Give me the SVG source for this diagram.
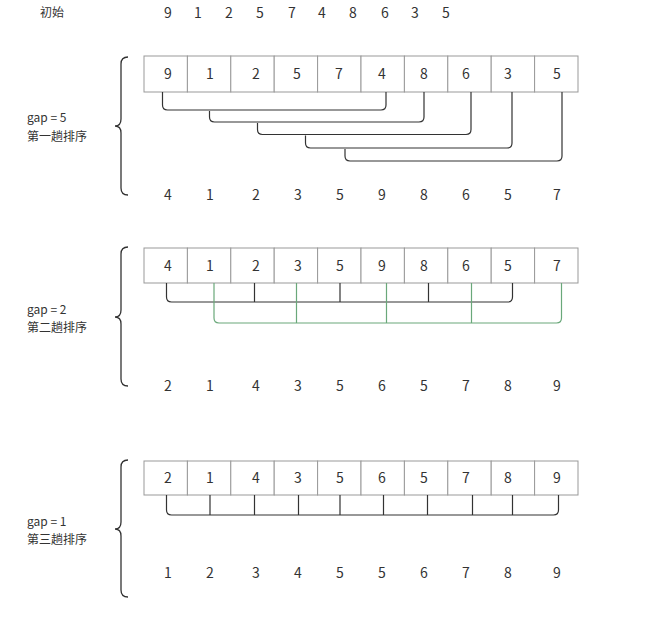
<svg xmlns="http://www.w3.org/2000/svg" width="646" height="620" viewBox="0 0 646 620">
<style>
text{font-family:"Noto Sans CJK SC","Noto Sans",sans-serif;fill:#333;}
.n{font-size:14px;text-anchor:middle;}
.l{font-size:12px;}
.cell{fill:#fff;stroke:#999;stroke-width:1;}
.k{fill:none;stroke:#333;stroke-width:1.2;}
.g{fill:none;stroke:#6aa87a;stroke-width:1.2;}
.br{fill:none;stroke:#333;stroke-width:1.3;}
</style>
<g id="init">
<text class="l" x="40" y="17">初始</text>
<text class="n" y="18"><tspan x="168">9</tspan><tspan x="198">1</tspan><tspan x="229">2</tspan><tspan x="260">5</tspan><tspan x="292">7</tspan><tspan x="322">4</tspan><tspan x="353">8</tspan><tspan x="385">6</tspan><tspan x="415">3</tspan><tspan x="446">5</tspan></text>
</g>
<g id="pass1">
<path class="br" d="M128,57 Q121,57 121,64 L121,119 Q121,126 115,126 Q121,126 121,133 L121,188 Q121,195 128,195"/>
<text class="l" x="27" y="122">gap = 5</text>
<text class="l" x="27" y="141">第一趟排序</text>
<g id="row1">
<rect class="cell" x="144" y="56" width="43.4" height="36"/><rect class="cell" x="187.4" y="56" width="43.4" height="36"/><rect class="cell" x="230.8" y="56" width="43.4" height="36"/><rect class="cell" x="274.2" y="56" width="43.4" height="36"/><rect class="cell" x="317.6" y="56" width="43.4" height="36"/><rect class="cell" x="361" y="56" width="43.4" height="36"/><rect class="cell" x="404.4" y="56" width="43.4" height="36"/><rect class="cell" x="447.8" y="56" width="43.4" height="36"/><rect class="cell" x="491.2" y="56" width="43.4" height="36"/><rect class="cell" x="534.6" y="56" width="43.4" height="36"/>
<text class="n" y="79"><tspan x="168">9</tspan><tspan x="210">1</tspan><tspan x="256">2</tspan><tspan x="297">5</tspan><tspan x="339">7</tspan><tspan x="382">4</tspan><tspan x="424">8</tspan><tspan x="466">6</tspan><tspan x="508">3</tspan><tspan x="557">5</tspan></text>
</g>
<text class="n" y="200"><tspan x="168">4</tspan><tspan x="210">1</tspan><tspan x="256">2</tspan><tspan x="298">3</tspan><tspan x="340">5</tspan><tspan x="382">9</tspan><tspan x="424">8</tspan><tspan x="466">6</tspan><tspan x="508">5</tspan><tspan x="557">7</tspan></text>
</g>
<g id="pass2">
<path class="br" d="M128,247 Q121,247 121,254 L121,310 Q121,317 115,317 Q121,317 121,324 L121,379 Q121,386 128,386"/>
<text class="l" x="27" y="314">gap = 2</text>
<text class="l" x="27" y="332">第二趟排序</text>
<g id="row2">
<rect class="cell" x="144" y="248" width="43.4" height="35"/><rect class="cell" x="187.4" y="248" width="43.4" height="35"/><rect class="cell" x="230.8" y="248" width="43.4" height="35"/><rect class="cell" x="274.2" y="248" width="43.4" height="35"/><rect class="cell" x="317.6" y="248" width="43.4" height="35"/><rect class="cell" x="361" y="248" width="43.4" height="35"/><rect class="cell" x="404.4" y="248" width="43.4" height="35"/><rect class="cell" x="447.8" y="248" width="43.4" height="35"/><rect class="cell" x="491.2" y="248" width="43.4" height="35"/><rect class="cell" x="534.6" y="248" width="43.4" height="35"/>
<text class="n" y="270.5"><tspan x="168">4</tspan><tspan x="210">1</tspan><tspan x="256">2</tspan><tspan x="298">3</tspan><tspan x="340">5</tspan><tspan x="382">9</tspan><tspan x="424">8</tspan><tspan x="466">6</tspan><tspan x="508">5</tspan><tspan x="557">7</tspan></text>
</g>
<text class="n" y="391"><tspan x="168">2</tspan><tspan x="210">1</tspan><tspan x="256">4</tspan><tspan x="298">3</tspan><tspan x="340">5</tspan><tspan x="382">6</tspan><tspan x="424">5</tspan><tspan x="466">7</tspan><tspan x="508">8</tspan><tspan x="557">9</tspan></text>
</g>
<g id="pass3">
<path class="br" d="M128,460 Q121,460 121,467 L121,522 Q121,529 115,529 Q121,529 121,536 L121,590 Q121,597 128,597"/>
<text class="l" x="27" y="526">gap = 1</text>
<text class="l" x="27" y="544">第三趟排序</text>
<g id="row3">
<rect class="cell" x="144" y="461" width="43.4" height="34"/><rect class="cell" x="187.4" y="461" width="43.4" height="34"/><rect class="cell" x="230.8" y="461" width="43.4" height="34"/><rect class="cell" x="274.2" y="461" width="43.4" height="34"/><rect class="cell" x="317.6" y="461" width="43.4" height="34"/><rect class="cell" x="361" y="461" width="43.4" height="34"/><rect class="cell" x="404.4" y="461" width="43.4" height="34"/><rect class="cell" x="447.8" y="461" width="43.4" height="34"/><rect class="cell" x="491.2" y="461" width="43.4" height="34"/><rect class="cell" x="534.6" y="461" width="43.4" height="34"/>
<text class="n" y="483"><tspan x="168">2</tspan><tspan x="210">1</tspan><tspan x="256">4</tspan><tspan x="298">3</tspan><tspan x="340">5</tspan><tspan x="382">6</tspan><tspan x="424">5</tspan><tspan x="466">7</tspan><tspan x="508">8</tspan><tspan x="557">9</tspan></text>
</g>
<text class="n" y="578"><tspan x="168">1</tspan><tspan x="210">2</tspan><tspan x="256">3</tspan><tspan x="298">4</tspan><tspan x="340">5</tspan><tspan x="382">5</tspan><tspan x="424">6</tspan><tspan x="466">7</tspan><tspan x="508">8</tspan><tspan x="557">9</tspan></text>
</g>
<g id="connectors">
<path class="k" d="M162.5,92 V105 Q162.5,110 167.5,110 H381 Q386,110 386,105 V92"/>
<path class="k" d="M209.5,111 V117 Q209.5,122 214.5,122 H419 Q424,122 424,117 V92"/>
<path class="k" d="M257.5,123 V129.5 Q257.5,134.5 262.5,134.5 H466 Q471,134.5 471,129.5 V92"/>
<path class="k" d="M305.5,135.5 V143 Q305.5,148 310.5,148 H507 Q512,148 512,143 V92"/>
<path class="k" d="M345,149 V156 Q345,161 350,161 H557 Q562,161 562,156 V92"/>
<path class="k" d="M166.5,283 V297 Q166.5,302 171.5,302 H507.5 Q512.5,302 512.5,297 V283 M254.5,283 V302 M340,283 V302 M428.5,283 V302"/>
<path class="g" d="M214,283 V318 Q214,323 219,323 H556.5 Q561.5,323 561.5,318 V283 M296.5,283 V323 M386.5,283 V323 M471.5,283 V323"/>
<path class="k" d="M166.5,495 V510 Q166.5,515 171.5,515 H553.5 Q558.5,515 558.5,510 V495 M210,495 V515 M254.5,495 V515 M298.5,495 V515 M340,495 V515 M383.5,495 V515 M427.5,495 V515 M472.5,495 V515 M512.5,495 V515"/>
</g>
</svg>
